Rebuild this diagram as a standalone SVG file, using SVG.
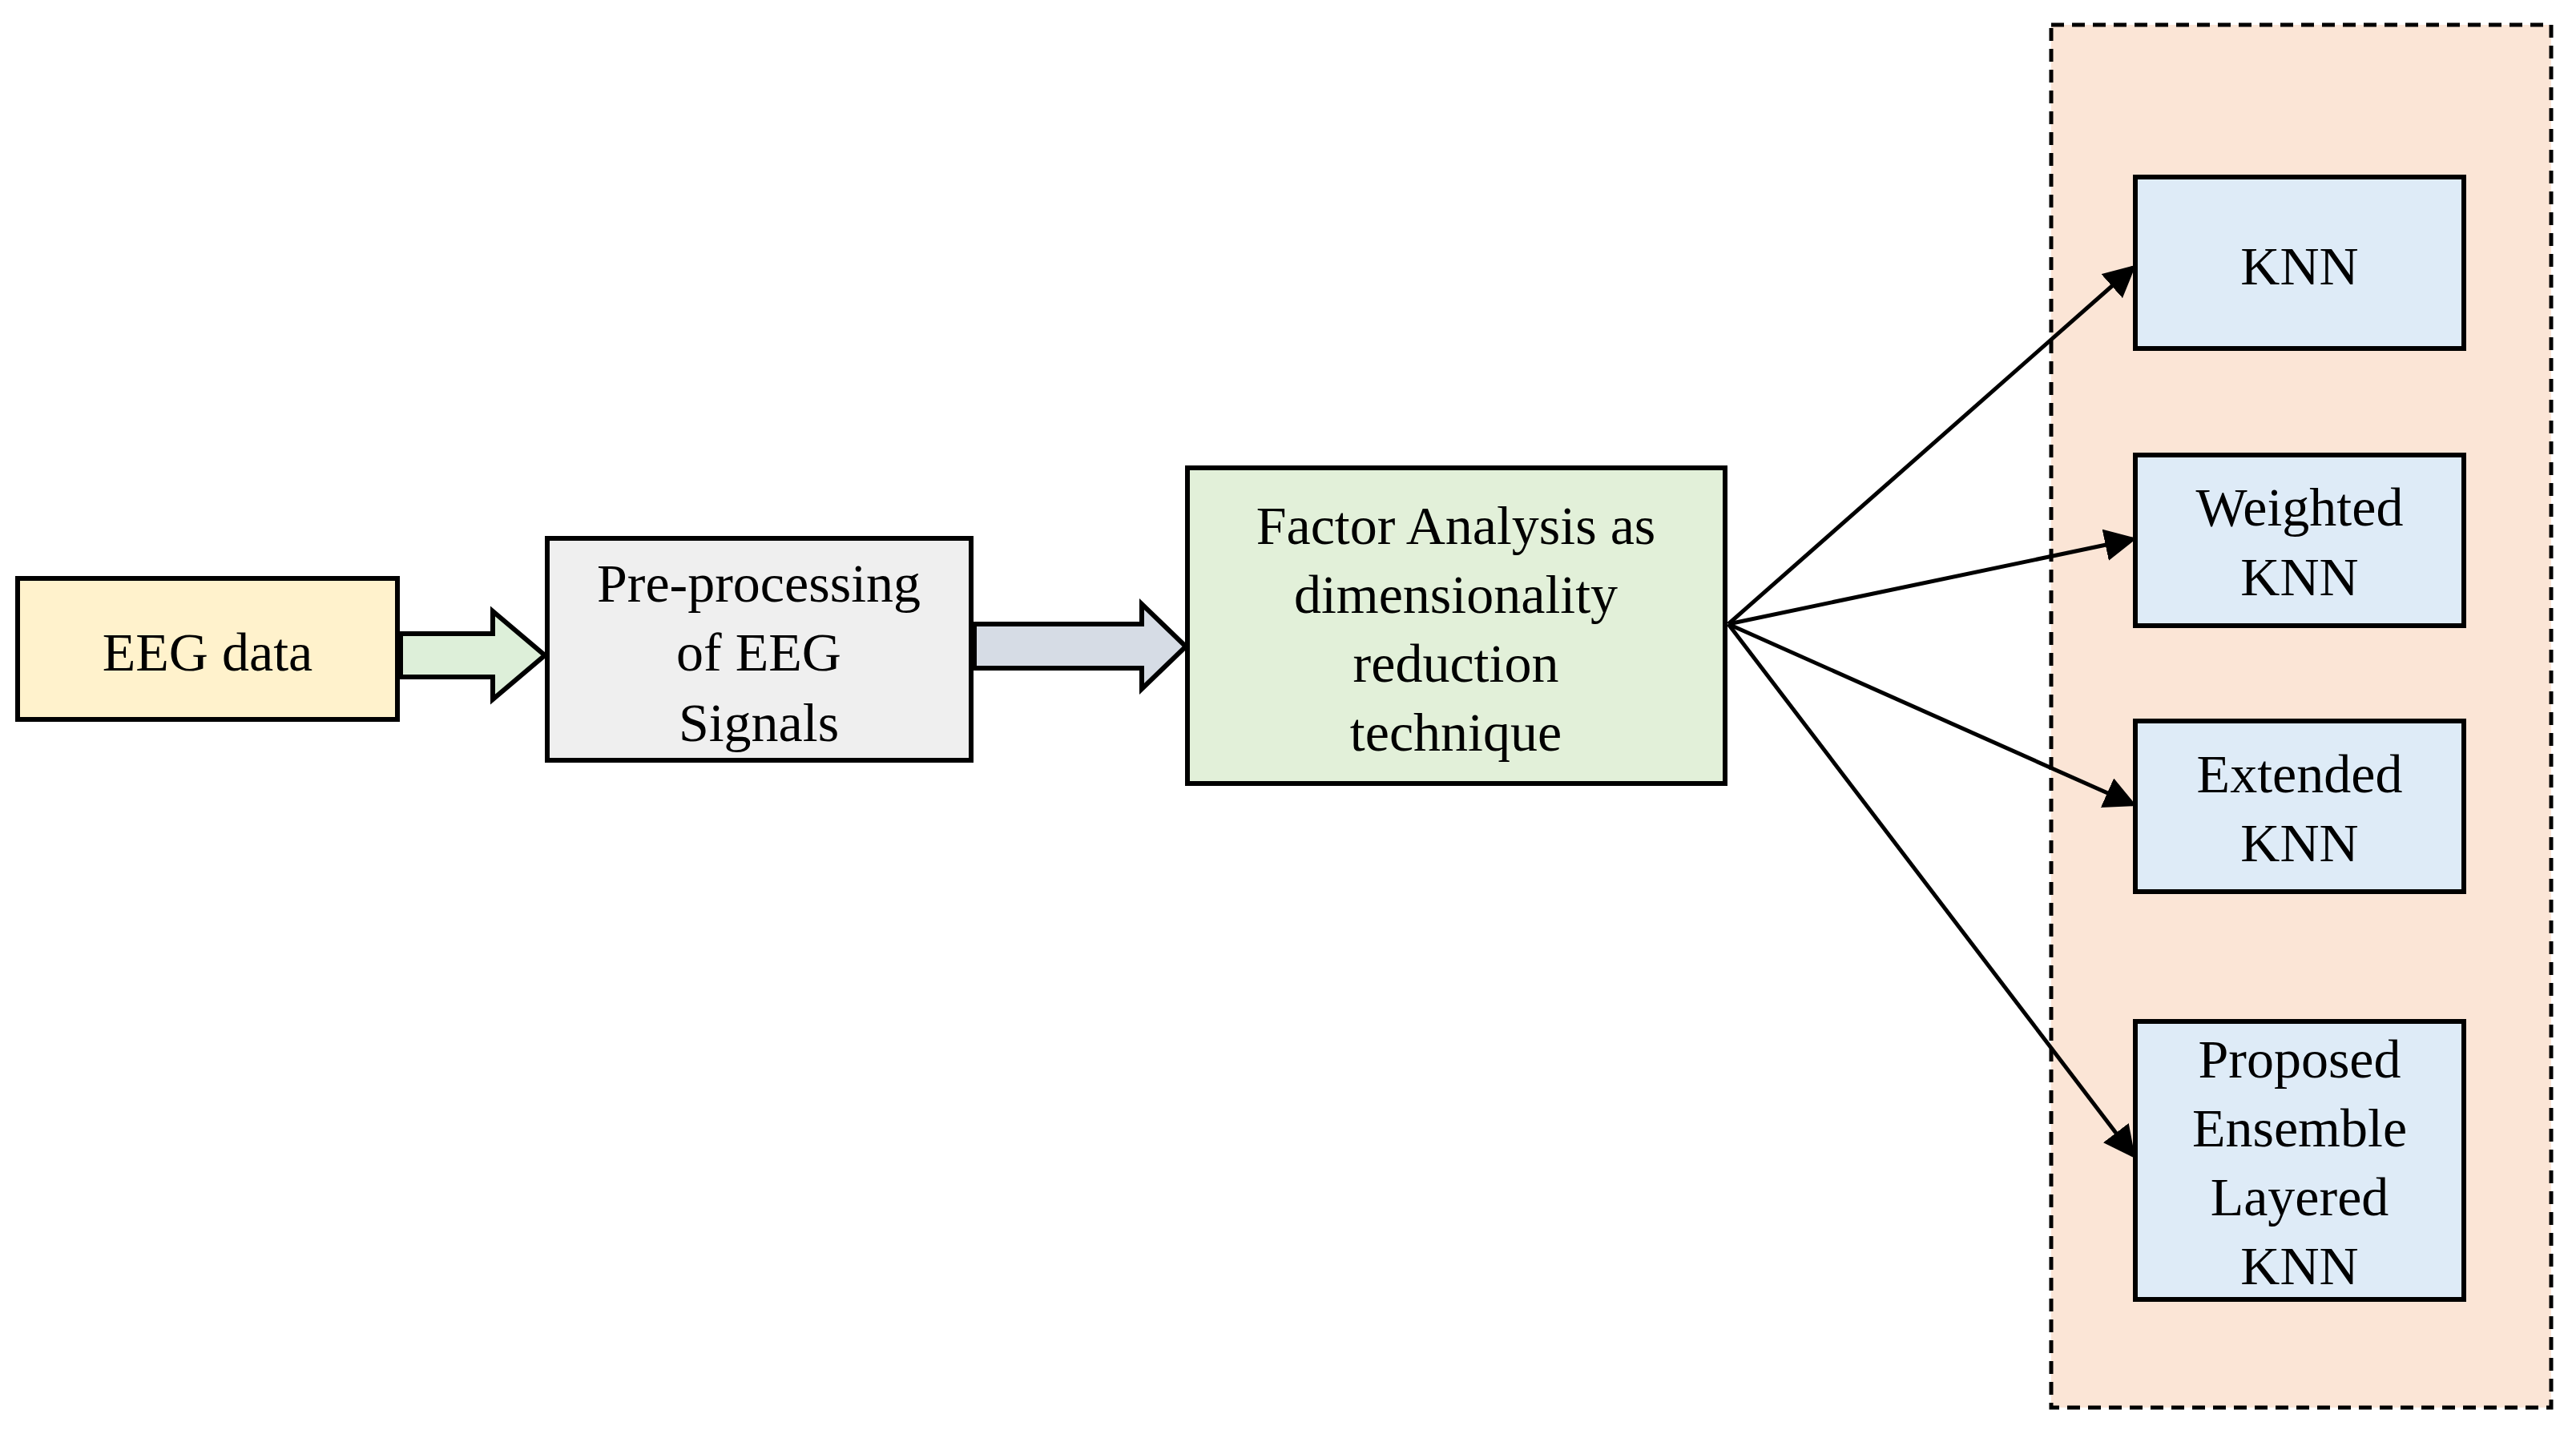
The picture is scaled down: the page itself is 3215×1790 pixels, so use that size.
<svg xmlns="http://www.w3.org/2000/svg" width="3215" height="1790" viewBox="0 0 3215 1790">
<style>
.b{stroke:#000;stroke-width:6}
.t{font-family:"Liberation Serif",serif;font-size:68px;text-anchor:middle;dominant-baseline:central;fill:#000}
.c{stroke:#000;stroke-width:5;fill:none;marker-end:url(#ah)}
</style>
<defs><marker id="ah" markerWidth="8" markerHeight="8" refX="7" refY="4" orient="auto" markerUnits="strokeWidth"><path d="M0,0 L8,4 L0,8 z" fill="#000"/></marker></defs>
<rect width="3215" height="1790" fill="#fff"/>
<g id="container"><rect x="2560" y="31" width="624" height="1726" fill="#FBE5D6" stroke="#000" stroke-width="5" stroke-dasharray="16,10"/></g>
<g id="eeg"><rect class="b" x="22" y="722" width="474" height="176" fill="#FFF2CC"/><text class="t" x="259" y="814">EEG data</text></g>
<g id="pre"><rect class="b" x="683" y="672" width="529" height="277" fill="#EFEFEF"/><text class="t" x="947" y="728">Pre-processing</text><text class="t" x="947" y="814">of EEG</text><text class="t" x="947" y="902">Signals</text></g>
<g id="fa"><rect class="b" x="1482" y="584" width="671" height="394" fill="#E2F0D9"/><text class="t" x="1817" y="656">Factor Analysis as</text><text class="t" x="1817" y="742">dimensionality</text><text class="t" x="1817" y="828">reduction</text><text class="t" x="1817" y="914">technique</text></g>
<g id="knn"><rect class="b" x="2665" y="221" width="410" height="214" fill="#DEEBF7"/><text class="t" x="2870" y="332">KNN</text></g>
<g id="wknn"><rect class="b" x="2665" y="568" width="410" height="213" fill="#DEEBF7"/><text class="t" x="2870" y="633">Weighted</text><text class="t" x="2870" y="720">KNN</text></g>
<g id="eknn"><rect class="b" x="2665" y="900" width="410" height="213" fill="#DEEBF7"/><text class="t" x="2870" y="966">Extended</text><text class="t" x="2870" y="1052">KNN</text></g>
<g id="pknn"><rect class="b" x="2665" y="1275" width="410" height="347" fill="#DEEBF7"/><text class="t" x="2870" y="1322">Proposed</text><text class="t" x="2870" y="1408">Ensemble</text><text class="t" x="2870" y="1494">Layered</text><text class="t" x="2870" y="1580">KNN</text></g>
<g id="connectors">
<path class="b" d="M500,791 H615 V763 L680,818 L615,873 V845 H500 Z" fill="#DDEFD9"/>
<path class="b" d="M1216,779 H1425 V754 L1480,807 L1425,860 V834 H1216 Z" fill="#D6DCE5"/>
<path class="c" d="M2157,779 L2662,334"/>
<path class="c" d="M2157,779 L2662,673"/>
<path class="c" d="M2157,779 L2662,1004"/>
<path class="c" d="M2157,779 L2662,1442"/>
</g>
</svg>
